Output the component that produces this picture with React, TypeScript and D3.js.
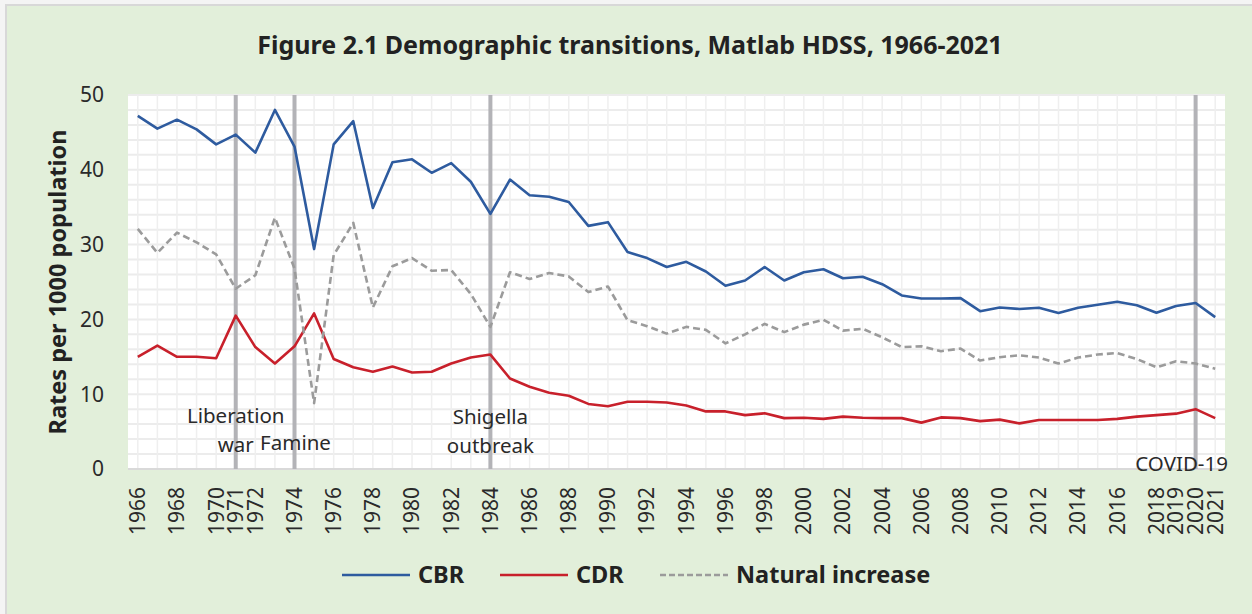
import * as d3 from 'd3';

const years = d3.range(1966, 2022).map(String);

const cbr = [
  47.2, 45.5, 46.7, 45.4, 43.4, 44.7, 42.3, 48.0, 43.1, 29.4,
  43.4, 46.5, 34.9, 41.0, 41.4, 39.6, 40.9, 38.4, 34.1, 38.7,
  36.6, 36.4, 35.7, 32.5, 33.0, 29.0, 28.2, 27.0, 27.7, 26.4,
  24.5, 25.2, 27.0, 25.2, 26.3, 26.7, 25.5, 25.7, 24.7, 23.2,
  22.8, 22.8, 22.85, 21.1, 21.6, 21.4, 21.55, 20.85, 21.55, 21.95,
  22.35, 21.9, 20.9, 21.8, 22.2, 20.3,
];

const cdr = [
  15.0, 16.5, 15.0, 15.0, 14.8, 20.5, 16.3, 14.1, 16.4, 20.8,
  14.7, 13.6, 13.0, 13.7, 12.9, 13.0, 14.1, 14.9, 15.3, 12.1,
  11.0, 10.2, 9.8, 8.7, 8.4, 9.0, 9.0, 8.9, 8.5, 7.7,
  7.7, 7.2, 7.45, 6.8, 6.85, 6.7, 7.0, 6.85, 6.8, 6.8,
  6.2, 6.9, 6.8, 6.4, 6.6, 6.1, 6.55, 6.55, 6.55, 6.55,
  6.7, 7.0, 7.2, 7.4, 8.0, 6.8,
];

const naturalIncrease = [
  32.1, 28.9, 31.6, 30.3, 28.7, 24.1, 25.9, 33.6, 26.8, 8.8,
  28.6, 32.9, 21.6, 27.1, 28.2, 26.5, 26.6, 23.4, 19.0, 26.3,
  25.4, 26.2, 25.75, 23.65, 24.4, 19.9, 19.1, 18.1, 19.0, 18.6,
  16.8, 18.0, 19.4, 18.3, 19.3, 19.95, 18.5, 18.75, 17.6, 16.3,
  16.4, 15.75, 16.1, 14.5, 14.95, 15.2, 14.9, 14.1, 14.9, 15.3,
  15.5, 14.7, 13.6, 14.4, 14.1, 13.4,
];

const tickYears = [
  '1966', '1968', '1970', '1971', '1972', '1974', '1976', '1978', '1980',
  '1982', '1984', '1986', '1988', '1990', '1992', '1994', '1996', '1998',
  '2000', '2002', '2004', '2006', '2008', '2010', '2012', '2014', '2016',
  '2018', '2019', '2020', '2021',
];

const yTicks = [0, 10, 20, 30, 40, 50];

const events = [
  { year: '1971', lines: ['Liberation', 'war'] },
  { year: '1974', lines: ['Famine'] },
  { year: '1984', lines: ['Shigella', 'outbreak'] },
  { year: '2020', lines: ['COVID-19'] },
];

const seriesNames = ['CBR', 'CDR', 'Natural increase'];

const W = 1252, H = 614;
const left = 128, right = 1225, top = 95, bottom = 469;
const FONT = '"Noto Sans", "Open Sans", sans-serif';

export default function App() {
  const x = d3.scaleBand<string>().domain(years).range([left, right]);
  const cx = (y: string) => (x(y) as number) + x.bandwidth() / 2;
  const y = d3.scaleLinear().domain([0, 50]).range([bottom, top]);

  const line = d3.line<number>()
    .x((_, i) => cx(years[i]))
    .y(d => y(d));

  const series = [
    { name: seriesNames[0], data: cbr, color: '#2e5b9f', dash: undefined },
    { name: seriesNames[1], data: cdr, color: '#c8202b', dash: undefined },
    { name: seriesNames[2], data: naturalIncrease, color: '#9b9b9b', dash: '7,4' },
  ];

  const minor = d3.range(0, 51, 2);

  // label placement per event, relative to the event line
  const labelPos: Record<string, { dx: number; base: number }> = {
    '1971': { dx: 0, base: 423 },
    '1974': { dx: 1, base: 450 },
    '1984': { dx: 0, base: 424 },
    '2020': { dx: -14, base: 471 },
  };

  const legendX = [342, 500, 660];

  return (
    <svg width={W} height={H} style={{ position: 'absolute', left: 0, top: 0, display: 'block' }}
      fontFamily={FONT}>
      <rect x={0} y={0} width={W} height={H} fill="#f4f4f4" />
      <rect x={6} y={5} width={W} height={H} fill="#e2efda" stroke="#d8d8d8" strokeWidth={2} />

      <text x={630} y={54} textAnchor="middle" fontSize={25} fontWeight="bold" fill="#222">
        Figure 2.1 Demographic transitions, Matlab HDSS, 1966-2021
      </text>

      <rect x={left} y={top} width={right - left} height={bottom - top} fill="#ffffff" />

      {minor.map(v => (
        <line key={'h' + v} x1={left} x2={right} y1={y(v)} y2={y(v)} stroke="#ececec" strokeWidth={2} />
      ))}
      {years.map(yr => (
        <line key={'v' + yr} x1={cx(yr)} x2={cx(yr)} y1={top} y2={bottom} stroke="#efefef" strokeWidth={1.5} />
      ))}
      <line x1={left} x2={right} y1={bottom} y2={bottom} stroke="#d9d9d9" strokeWidth={2} />

      {events.map(e => (
        <line key={'e' + e.year} x1={cx(e.year)} x2={cx(e.year)} y1={top} y2={bottom}
          stroke="#b3b3b7" strokeWidth={4} />
      ))}

      {series.map(s => (
        <path key={s.name} d={line(s.data) || ''} fill="none" stroke={s.color}
          strokeWidth={2.6} strokeDasharray={s.dash} strokeLinejoin="round" />
      ))}

      {events.map(e => {
        const p = labelPos[e.year];
        return (
          <text key={'t' + e.year} x={cx(e.year) + p.dx} y={p.base} textAnchor="middle"
            fontSize={20.5} fill="#2a2a2a">
            {e.lines.map((l, i) => (
              <tspan key={i} x={cx(e.year) + p.dx} dy={i === 0 ? 0 : 28.5}>{l}</tspan>
            ))}
          </text>
        );
      })}

      {yTicks.map(v => (
        <text key={'yt' + v} x={104} y={y(v)} dy="0.35em" textAnchor="end" fontSize={21} fill="#2a2a2a">
          {v}
        </text>
      ))}

      {tickYears.map(yr => (
        <text key={'xt' + yr} transform={`translate(${cx(yr)},487) rotate(-90)`} dy="0.35em"
          textAnchor="end" fontSize={21} fill="#2a2a2a">
          {yr}
        </text>
      ))}

      <text transform="translate(58,282) rotate(-90)" dy="0.35em" textAnchor="middle"
        fontSize={23.5} fontWeight="bold" fill="#222">
        Rates per 1000 population
      </text>

      {series.map((s, i) => (
        <g key={'lg' + s.name} transform={`translate(${legendX[i]},575)`}>
          <line x1={0} x2={68} y1={0} y2={0} stroke={s.color} strokeWidth={2.6} strokeDasharray={s.dash ? '6,3' : undefined} />
          <text x={76} y={0} dy="0.35em" fontSize={23.5} fontWeight="bold" fill="#222">{s.name}</text>
        </g>
      ))}
    </svg>
  );
}
